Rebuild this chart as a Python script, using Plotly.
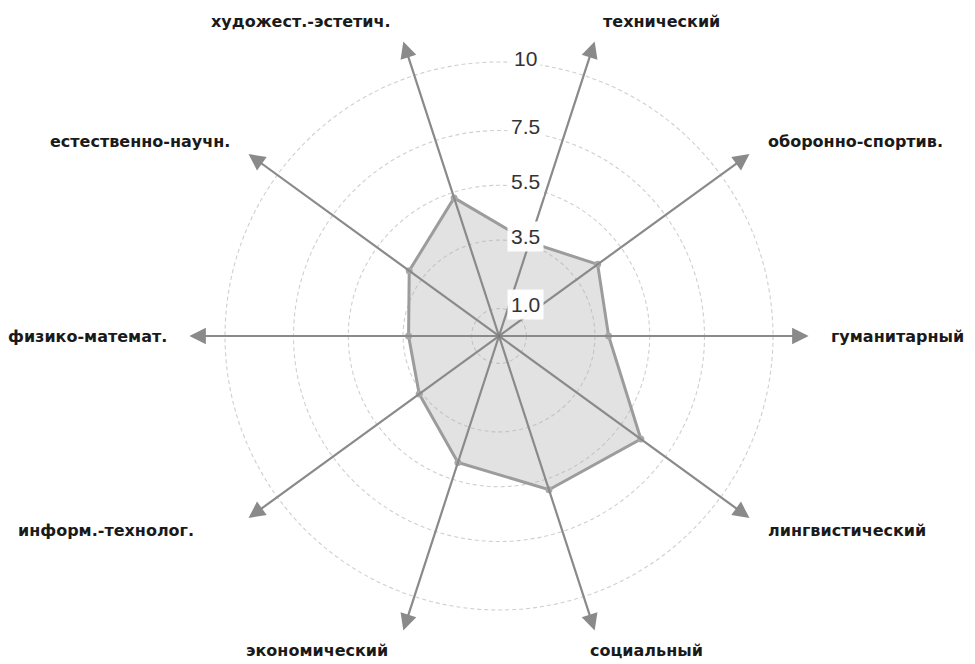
import math
import plotly.graph_objects as go

# ---- data ----
categories = ["технический", "оборонно-спортив.", "гуманитарный", "лингвистический",
              "социальный", "экономический", "информ.-технолог.", "физико-математ.",
              "естественно-научн.", "художест.-эстетич."]
values = [3.6, 4.45, 4.0, 6.4, 5.9, 4.85, 3.6, 3.3, 4.05, 5.3]
ring_values = [1.0, 3.5, 5.5, 7.5, 10]
ring_labels = ["1.0", "3.5", "5.5", "7.5", "10"]

# ---- geometry / style ----
W, H = 975, 664
PAGE_OFFSET = 8            # default body margin of the html page
CX, CY = 499 - PAGE_OFFSET, 336 - PAGE_OFFSET   # centre in figure pixels
SCALE = 27.4               # pixels per unit
START_ANGLE = 18           # degrees clockwise from north for first category
ARROW_LEN = 11.3
LABEL_R = 12.05
AXIS_COLOR = "#8a8a8a"
GRID_COLOR = "#cfcfcf"
# small pixel nudges of the category labels (style only)
label_nudge = [0, 0, 0, 0, -13, -7, -36, 0, 0, -4]

n = len(categories)
angles = [math.radians(START_ANGLE + i * 360 / n) for i in range(n)]


def xy(r, a):
    return r * math.sin(a), r * math.cos(a)


fig = go.Figure()

# rings
for rv in ring_values:
    fig.add_shape(type="circle", xref="x", yref="y", x0=-rv, y0=-rv, x1=rv, y1=rv,
                  line=dict(color=GRID_COLOR, width=1.1, dash="4px,3px"), layer="below")

# polygon
px = [xy(v, a)[0] for v, a in zip(values, angles)]
py = [xy(v, a)[1] for v, a in zip(values, angles)]
fig.add_trace(go.Scatter(x=px + [px[0]], y=py + [py[0]], mode="lines+markers",
                         fill="toself", fillcolor="rgba(175,175,175,0.36)",
                         line=dict(color="#9c9c9c", width=3),
                         marker=dict(size=7, color="#a8a8a8"),
                         hoverinfo="skip", showlegend=False))

# centre dot
fig.add_trace(go.Scatter(x=[0], y=[0], mode="markers",
                         marker=dict(size=6, color="#777777"),
                         hoverinfo="skip", showlegend=False))

annotations = []
# axis arrows
for a in angles:
    tx, ty = xy(ARROW_LEN, a)
    annotations.append(dict(x=tx, y=ty, ax=0, ay=0, xref="x", yref="y",
                            axref="x", ayref="y", text="", showarrow=True,
                            arrowhead=2, arrowsize=1.5, arrowwidth=2.2,
                            arrowcolor=AXIS_COLOR, standoff=0, startstandoff=0))

# category labels
for c, a, nd in zip(categories, angles, label_nudge):
    lx, ly = xy(LABEL_R, a)
    s = math.sin(a)
    xa = "left" if s > 0.1 else ("right" if s < -0.1 else "center")
    annotations.append(dict(x=lx, y=ly, xref="x", yref="y", text=c, showarrow=False,
                            xanchor=xa, yanchor="middle", xshift=nd,
                            font=dict(family="DejaVu Sans, sans-serif",
                                      size=16, color="#1a1a1a", weight="bold")))

# ring labels
for rv, rl in zip(ring_values, ring_labels):
    annotations.append(dict(x=0, y=rv, xref="x", yref="y", text=rl, showarrow=False,
                            xshift=26, yshift=4, xanchor="center", yanchor="middle",
                            bgcolor="rgba(255,255,255,0.96)", borderpad=3,
                            font=dict(family="Liberation Sans, Arial, sans-serif",
                                      size=21, color="#333333")))

fig.update_layout(
    width=W, height=H, margin=dict(l=0, r=0, t=0, b=0),
    paper_bgcolor="white", plot_bgcolor="white",
    xaxis=dict(range=[-CX / SCALE, (W - CX) / SCALE], visible=False, fixedrange=True),
    yaxis=dict(range=[-(H - CY) / SCALE, CY / SCALE], visible=False, fixedrange=True),
    annotations=annotations, showlegend=False,
)

fig.write_html("out.html")
